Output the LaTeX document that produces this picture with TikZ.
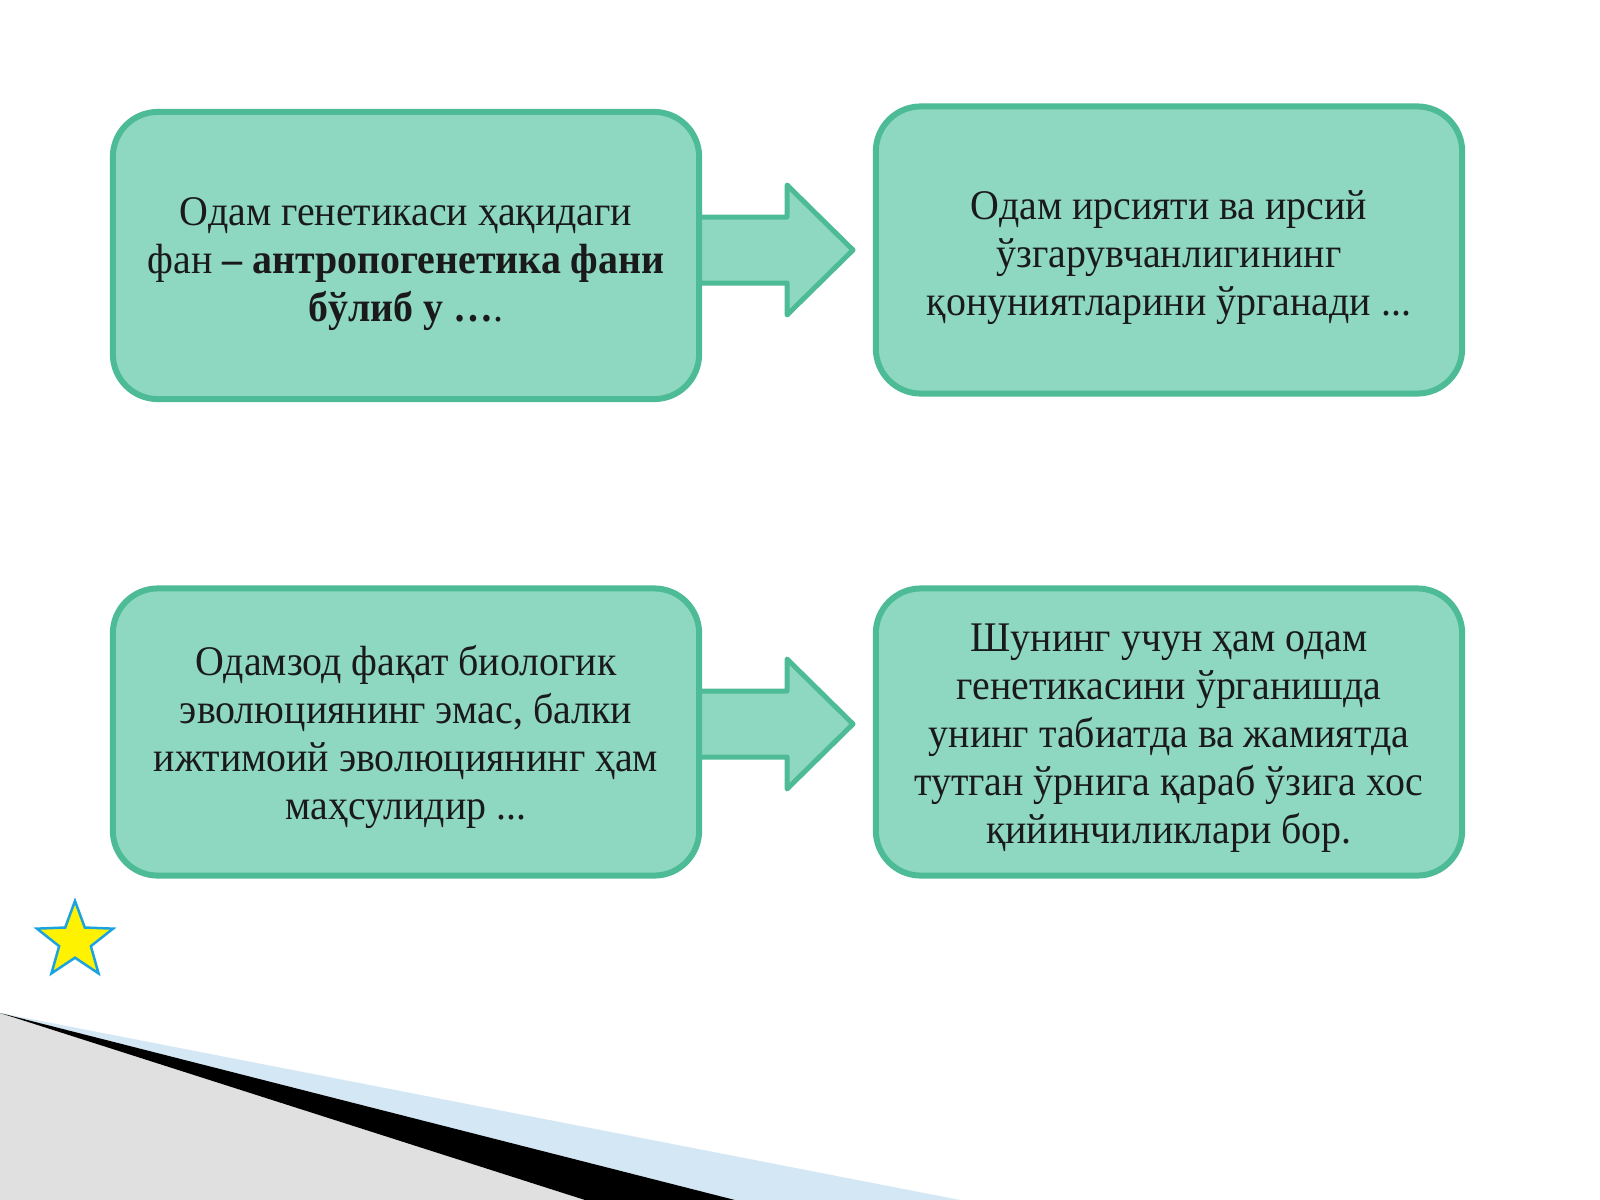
\documentclass[tikz,border=0pt]{standalone}
\usepackage{fontspec}
\setmainfont{Liberation Serif}[FakeStretch=0.945]
\usetikzlibrary{shapes.geometric}
\definecolor{boxfill}{HTML}{8ED8C1}
\definecolor{boxline}{HTML}{4DBB96}
\definecolor{starline}{HTML}{1AA3E0}
\definecolor{decogrey}{HTML}{E0E0E0}
\definecolor{decoblue}{HTML}{D3E7F5}
\definecolor{txt}{HTML}{1A1A1A}
\tikzset{
  infobox/.style={draw=boxline, fill=boxfill, line width=0.06cm, rounded corners=0.45cm,
    minimum width=5.86cm, minimum height=2.87cm, inner sep=0pt},
  boxtext/.style={align=center, text=txt, inner sep=0pt,
    font=\fontsize{12pt}{13.66pt}\selectfont},
  blockarrow/.style={draw=boxline, fill=boxfill, line width=0.05cm, line join=round},
}
\begin{document}
\begin{tikzpicture}[x=0.01cm, y=-0.01cm]
\useasboundingbox (0,0) rectangle (1600,1200);
\fill[white] (0,0) rectangle (1600,1200);
% bottom-left decoration
\fill[decogrey] (0,1013) -- (585,1200) -- (0,1200) -- cycle;
\fill[decoblue] (0,1013) -- (960,1200) -- (735,1200) -- cycle;
\fill[black] (0,1013) -- (735,1200) -- (585,1200) -- cycle;
% block arrows
\draw[blockarrow] (690,217) -- (787,217) -- (787,185) -- (853,250) -- (787,315) -- (787,283) -- (690,283) -- cycle;
\draw[blockarrow] (690,691) -- (787,691) -- (787,659) -- (853,724) -- (787,789) -- (787,757) -- (690,757) -- cycle;
% boxes
\node[infobox] (b1) at (406,255.5) {};
\node[infobox] (b2) at (1169,250) {};
\node[infobox] (b3) at (406,732) {};
\node[infobox] (b4) at (1169,732) {};
% texts
\node[boxtext, yshift=-0.09cm] (t1) at (b1) {Одам генетикаси ҳақидаги\\фан \textbf{– антропогенетика фани}\\\textbf{бўлиб у …}.};
\node[boxtext, yshift=-0.08cm] (t2) at (b2) {Одам ирсияти ва ирсий\\ўзгарувчанлигининг\\қонуниятларини ўрганади ...};
\node[boxtext, yshift=-0.05cm] (t3) at (b3) {Одамзод фақат биологик\\эволюциянинг эмас, балки\\ижтимоий эволюциянинг ҳам\\маҳсулидир ...};
\node[boxtext, yshift=-0.06cm] (t4) at (b4) {Шунинг учун ҳам одам\\генетикасини ўрганишда\\унинг табиатда ва жамиятда\\тутган ўрнига қараб ўзига хос\\қийинчиликлари бор.};
% star
\node[star, star points=5, star point ratio=2.4, minimum size=0.8cm, inner sep=0pt,
  draw=starline, fill=yellow, line width=0.025cm] (st) at (75,941) {};
\end{tikzpicture}
\end{document}
